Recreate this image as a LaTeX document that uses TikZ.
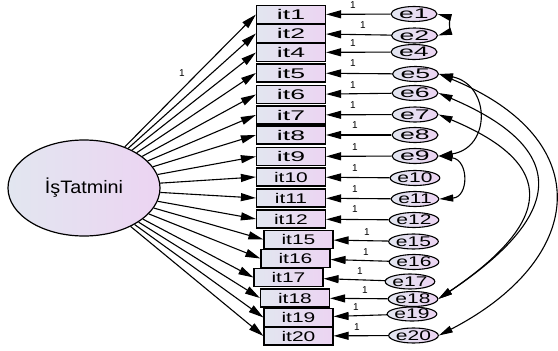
\documentclass[tikz,border=0pt]{standalone}
\usepackage{fontspec}
\setmainfont{Liberation Sans}
\newfontfamily\shortlbl[FakeStretch=1.9]{Liberation Sans}
\newfontfamily\longlbl[FakeStretch=1.5]{Liberation Sans}
\newfontfamily\latfont[FakeStretch=1.1]{Liberation Sans}
\usetikzlibrary{shapes.geometric,arrows.meta}
\definecolor{fillL}{RGB}{226,230,240}
\definecolor{fillR}{RGB}{236,212,242}
\tikzset{
  obs/.style={draw, rectangle, minimum width=69pt, minimum height=18pt,
    inner sep=0pt, line width=1.2pt, left color=fillL, right color=fillR},
  err/.style={draw, ellipse, minimum width=46pt, minimum height=15pt,
    inner sep=0pt, line width=1.1pt, left color=fillL, right color=fillR},
  latent/.style={draw, ellipse, minimum width=152pt, minimum height=96pt,
    inner sep=0pt, line width=1.2pt, left color=fillL, right color=fillR,
    font=\latfont\fontsize{18}{18}\selectfont},
  nar/.style={font=\shortlbl\fontsize{14}{14}\selectfont},
  wid/.style={font=\longlbl\fontsize{14}{14}\selectfont},
  wt/.style={inner sep=0pt, font=\fontsize{10}{10}\selectfont},
  path/.style={line width=1.1pt, -{Triangle[length=15pt,width=8pt]}},
  cov/.style={line width=1.1pt, {Triangle[length=14pt,width=7pt]}-{Triangle[length=14pt,width=7pt]}},
}
\begin{document}
\begin{tikzpicture}[x=1pt,y=-1pt]
\useasboundingbox (0,0) rectangle (558,351);

% latent factor
\node[latent] (lat) at (84,188) {İşTatmini};

% observed items
\node[obs,nar] (it1)  at (291,14.5)  {it1};
\node[obs,nar] (it2)  at (291,33.5)  {it2};
\node[obs,nar] (it4)  at (291,52.5)  {it4};
\node[obs,nar] (it5)  at (291,73)    {it5};
\node[obs,nar] (it6)  at (291,94.5)  {it6};
\node[obs,nar] (it7)  at (291,115)   {it7};
\node[obs,nar] (it8)  at (291,135)   {it8};
\node[obs,nar] (it9)  at (291,156.5) {it9};
\node[obs,wid] (it10) at (291,177)   {it10};
\node[obs,wid] (it11) at (291,198)   {it11};
\node[obs,wid] (it12) at (291,219)   {it12};
\node[obs,wid] (it15) at (298.5,239.5) {it15};
\node[obs,wid] (it16) at (295.5,258.5) {it16};
\node[obs,wid] (it17) at (288.5,277.5) {it17};
\node[obs,wid] (it18) at (295,298)     {it18};
\node[obs,wid] (it19) at (298.5,317.5) {it19};
\node[obs,wid] (it20) at (298.5,336)   {it20};

% error terms
\node[err,nar] (e1)  at (414,14)    {e1};
\node[err,nar] (e2)  at (414.5,35.5) {e2};
\node[err,nar] (e4)  at (414,52)    {e4};
\node[err,nar] (e5)  at (415.5,74)  {e5};
\node[err,nar] (e6)  at (415,93)    {e6};
\node[err,nar] (e7)  at (415,114.5) {e7};
\node[err,nar] (e8)  at (415,135)   {e8};
\node[err,nar] (e9)  at (415,156)   {e9};
\node[err,wid] (e10) at (415,178)   {e10};
\node[err,wid] (e11) at (415,199)   {e11};
\node[err,wid] (e12) at (414,220)   {e12};
\node[err,wid] (e15) at (413.5,241.5) {e15};
\node[err,wid] (e16) at (414,262)   {e16};
\node[err,wid] (e17) at (410,281.5) {e17};
\node[err,wid] (e18) at (413,299)   {e18};
\node[err,wid,minimum width=42pt,minimum height=13pt] (e19) at (412,314) {e19};
\node[err,wid] (e20) at (413.5,335.5) {e20};

% factor loadings
\foreach \i in {1,2,4,5,6,7,8,9,10,11,12,15,16,17,18,19,20}
  \draw[path] (lat) -- (it\i.west);

% error paths
\foreach \i in {1,2,4,5,6,7,8,9,10,11,12,15,16,17,18,19,20}
  \draw[path] (e\i) -- (it\i);

% fixed weights
\node[wt] (wl)  at (182,73)  {1};
\node[wt] (w1)  at (353,5)   {1};
\node[wt] (w2)  at (363,25)  {1};
\node[wt] (w4)  at (353,43)  {1};
\node[wt] (w5)  at (353,63)  {1};
\node[wt] (w6)  at (353,85)  {1};
\node[wt] (w7)  at (353,105) {1};
\node[wt] (w8)  at (355,125) {1};
\node[wt] (w9)  at (355,147) {1};
\node[wt] (w10) at (355,168) {1};
\node[wt] (w11) at (355,189) {1};
\node[wt] (w12) at (355,209) {1};
\node[wt] (w15) at (367,232) {1};
\node[wt] (w16) at (366,252) {1};
\node[wt] (w17) at (360,271) {1};
\node[wt] (w18) at (365,290) {1};
\node[wt] (w19) at (356,307) {1};
\node[wt] (w20) at (357,327) {1};

% error covariances
\draw[cov] (e1.east) .. controls (449,17) and (449,32) .. (e2.east);
\draw[cov] (e5.east) .. controls (491,85) and (491,148) .. (e9.east);
\draw[cov] (e9.east) .. controls (469,160) and (469,197) .. (e11.east);
\draw[cov] (e5.east) .. controls (600,140) and (585,260) .. (e20.east);
\draw[cov] (e6.east) .. controls (572,150) and (564,215) .. (e18.east);
\draw[cov] (e7.east) .. controls (560,165) and (552,222) .. (e18.east);
\end{tikzpicture}
\end{document}
